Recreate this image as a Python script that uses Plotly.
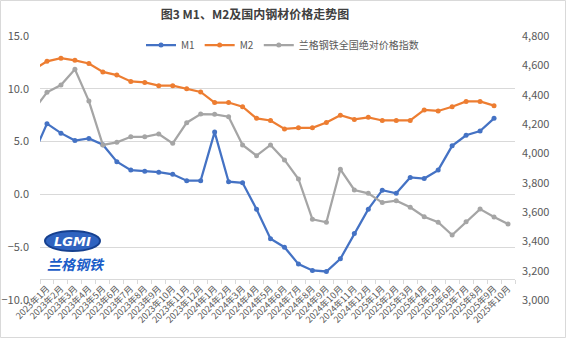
import plotly.graph_objects as go

# ---------------- data ----------------
months = [
    "2022年12月",
    "2023年1月", "2023年2月", "2023年3月", "2023年4月", "2023年5月", "2023年6月",
    "2023年7月", "2023年8月", "2023年9月", "2023年10月", "2023年11月", "2023年12月",
    "2024年1月", "2024年2月", "2024年3月", "2024年4月", "2024年5月", "2024年6月",
    "2024年7月", "2024年8月", "2024年9月", "2024年10月", "2024年11月", "2024年12月",
    "2025年1月", "2025年2月", "2025年3月", "2025年4月", "2025年5月", "2025年6月",
    "2025年7月", "2025年8月", "2025年9月", "2025年10月",
]

m1 = [3.7,
      6.7, 5.8, 5.1, 5.3, 4.7, 3.1, 2.3, 2.2, 2.1, 1.9, 1.3, 1.3,
      5.9, 1.2, 1.1, -1.4, -4.2, -5.0, -6.6, -7.2, -7.3, -6.1, -3.7, -1.4,
      0.4, 0.1, 1.6, 1.5, 2.3, 4.6, 5.6, 6.0, 7.2]

m2 = [11.8,
      12.6, 12.9, 12.7, 12.4, 11.6, 11.3, 10.7, 10.6, 10.3, 10.3, 10.0, 9.7,
      8.7, 8.7, 8.3, 7.2, 7.0, 6.2, 6.3, 6.3, 6.8, 7.5, 7.1, 7.3,
      7.0, 7.0, 7.0, 8.0, 7.9, 8.3, 8.8, 8.8, 8.4]

lange_index = [4290,
               4416, 4466, 4573, 4356, 4057, 4075, 4113, 4113, 4132, 4068, 4209, 4268,
               4266, 4250, 4057, 3984, 4057, 3955, 3825, 3550, 3530, 3891, 3750, 3727,
               3664, 3677, 3632, 3568, 3530, 3443, 3534, 3620, 3566, 3518]

names = ["M1", "M2", "兰格钢铁全国绝对价格指数"]
colors = ["#4472C4", "#ED7D31", "#A5A5A5"]

title_text = "图3 M1、M2及国内钢材价格走势图"
logo_text = "LGMI"
logo_cn = "兰格钢铁"

FONT = "Noto Sans CJK SC"

# ---------------- figure ----------------
fig = go.Figure()

fig.add_trace(go.Scatter(
    x=months[:len(m1)], y=m1, name=names[0], mode="lines+markers",
    line=dict(color=colors[0], width=2.25), marker=dict(size=5, color=colors[0]),
    yaxis="y", cliponaxis=True,
))
fig.add_trace(go.Scatter(
    x=months[:len(m2)], y=m2, name=names[1], mode="lines+markers",
    line=dict(color=colors[1], width=2.25), marker=dict(size=5, color=colors[1]),
    yaxis="y", cliponaxis=True,
))
fig.add_trace(go.Scatter(
    x=months[:len(lange_index)], y=lange_index, name=names[2], mode="lines+markers",
    line=dict(color=colors[2], width=2.25), marker=dict(size=5, color=colors[2]),
    yaxis="y2", cliponaxis=True,
))

# plot area geometry (px): left 40, right 515, top 36, bottom 300
L, R, T, B = 40, 515, 36, 300
W, H = 566, 338


def px_x(px):
    return (px - L) / (R - L)


def px_y(py):
    return (B - py) / (B - T)


fig.update_layout(
    width=W, height=H, autosize=False,
    margin=dict(l=L, r=W - R, t=T, b=H - B, pad=0),
    paper_bgcolor="white", plot_bgcolor="white",
    font=dict(family=FONT, size=11, color="#595959"),
    title=dict(
        text="<b>" + title_text + "</b>",
        x=255 / W, xref="container", xanchor="center",
        y=1 - 15 / H, yref="container", yanchor="middle",
        font=dict(family=FONT, size=12, color="#404040"),
    ),
    legend=dict(
        orientation="h", x=px_x(141), y=px_y(45), xref="paper", yref="paper",
        xanchor="left", yanchor="middle", bgcolor="rgba(0,0,0,0)",
        font=dict(family=FONT, size=10, color="#595959"),
        itemwidth=30, borderwidth=0,
    ),
    xaxis=dict(
        type="category", categoryorder="array", categoryarray=months,
        range=[0.5, len(months) - 0.5],
        anchor="free", position=(B - 279) / (B - T),
        showline=True, linecolor="#d9d9d9", linewidth=1,
        ticks="outside", tickson="boundaries", ticklen=4, tickcolor="#d9d9d9",
        tickangle=-45, tickfont=dict(family=FONT, size=9, color="#595959"),
        showgrid=False, zeroline=False, automargin=False, fixedrange=True,
    ),
    yaxis=dict(
        range=[-10, 15], tick0=-10, dtick=5, tickformat=".1f",
        showgrid=True, gridcolor="#d9d9d9", gridwidth=1,
        zeroline=False, showline=False, ticks="",
        automargin=False, ticklabelstandoff=10,
        tickfont=dict(family=FONT, size=11, color="#595959"),
    ),
    yaxis2=dict(
        range=[3000, 4800], tick0=3000, dtick=200, tickformat=",",
        overlaying="y", side="right",
        showgrid=False, zeroline=False, showline=False, ticks="",
        automargin=False, ticklabelstandoff=6,
        tickfont=dict(family=FONT, size=11, color="#595959"),
    ),
    shapes=[
        dict(type="rect", xref="paper", yref="paper",
             x0=px_x(0.5), x1=px_x(565.5), y0=px_y(337.5), y1=px_y(0.5),
             line=dict(color="#d9d9d9", width=1), fillcolor="rgba(0,0,0,0)",
             layer="below"),
        dict(type="circle", xref="paper", yref="paper",
             x0=px_x(45), x1=px_x(100), y0=px_y(251), y1=px_y(231),
             line=dict(color="#16408f", width=2), fillcolor="#2f63c0",
             layer="above"),
    ],
    annotations=[
        dict(text="<b><i>" + logo_text + "</i></b>", xref="paper", yref="paper",
             x=px_x(72.5), y=px_y(241), xanchor="center", yanchor="middle",
             showarrow=False, font=dict(family="DejaVu Sans", size=13, color="white")),
        dict(text="<b><i>" + logo_cn + "</i></b>", xref="paper", yref="paper",
             x=px_x(76), y=px_y(264), xanchor="center", yanchor="middle",
             showarrow=False, font=dict(family=FONT, size=14, color="#1a5dc8")),
    ],
)

fig.write_html("out.html")
